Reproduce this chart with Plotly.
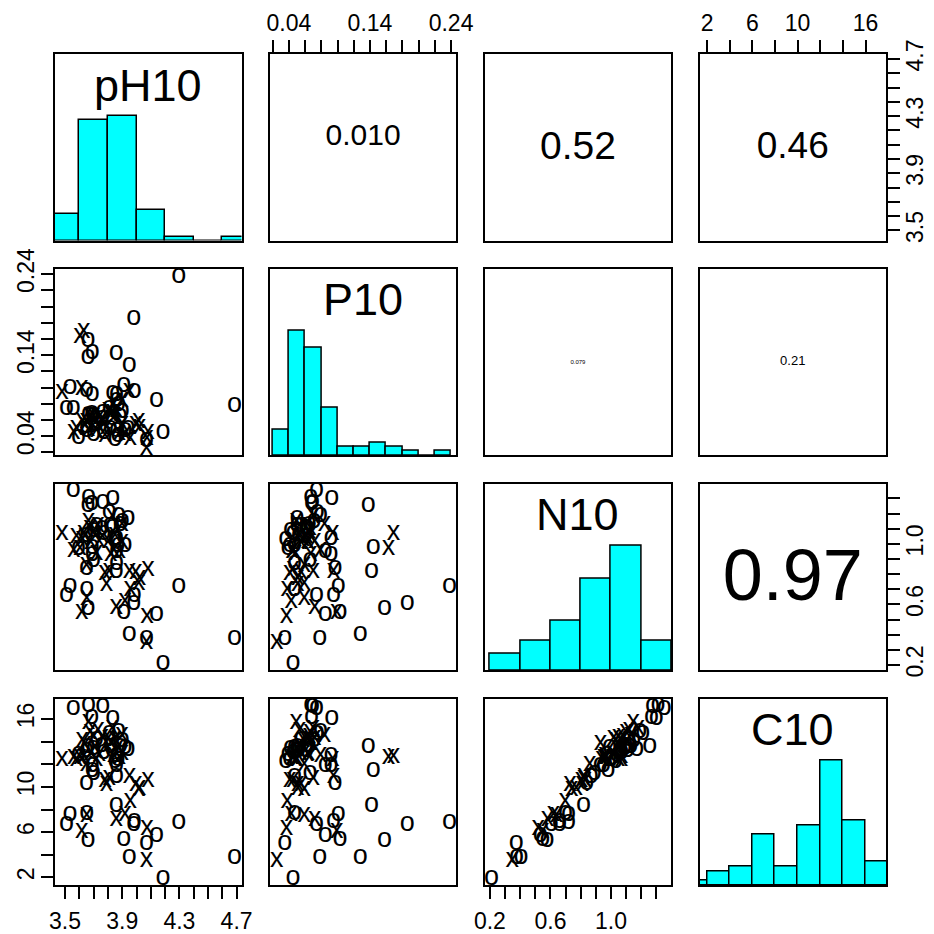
import numpy as np
import plotly.graph_objects as go

# ---------------- data ----------------
var_names = ["pH10", "P10", "N10", "C10"]

group = ["o", "x", "o", "o", "o", "o", "o", "o",
         "o", "o", "x", "o", "x", "x", "o", "o", "o", "x", "x",
         "o", "x", "x", "x",
         "x", "o", "o", "o", "o", "x", "x", "o", "x", "x", "x", "x", "o",
         "x", "x", "x", "o", "x", "o", "o", "x", "x", "o", "x", "o", "x", "o", "x", "o", "o", "o", "o", "x", "o", "x", "o", "x", "o", "x", "o",
         "x", "x", "x", "o", "x", "x", "x", "o", "x", "x", "o", "x", "o", "x",
         "o", "o", "o", "o", "o"]

ph10 = [4.185, 4.07, 3.95, 4.686, 4.07, 3.66, 3.91, 4.14,
        3.535, 3.652, 3.652, 3.51, 3.858, 3.92, 3.984, 3.98, 4.295, 3.617, 4.073,
        3.858, 3.956, 4.015, 4.02,
        3.65, 3.69, 3.69, 3.70, 3.65, 3.78, 3.79, 3.86, 3.95, 3.995, 4.08, 3.81, 3.86,
        3.478, 3.58, 3.56, 3.595, 3.605, 3.66, 3.757, 3.72, 3.63, 3.65, 3.68, 3.70, 3.74, 3.77, 3.64, 3.816, 3.92, 3.886, 3.87, 3.84, 3.86, 3.90, 3.83, 3.88, 3.94, 3.82, 3.85,
        3.664, 3.675, 3.83, 3.874, 3.898, 3.804, 3.70, 3.72, 3.76, 3.62, 3.81, 3.85, 3.90, 3.73,
        3.558, 3.664, 3.764, 3.687, 3.834]

p10 = [0.045, 0.025, 0.128, 0.078, 0.035, 0.158, 0.103, 0.085,
       0.101, 0.047, 0.059, 0.074, 0.072, 0.043, 0.095, 0.186, 0.238, 0.099, 0.037,
       0.142, 0.038, 0.059, 0.051,
       0.059, 0.092, 0.144, 0.066, 0.097, 0.041, 0.051, 0.047, 0.095, 0.055, 0.045, 0.070, 0.085,
       0.094, 0.050, 0.045, 0.039, 0.163, 0.138, 0.062, 0.048, 0.169, 0.052, 0.064, 0.042, 0.063, 0.045, 0.053, 0.050, 0.047, 0.065, 0.041, 0.079, 0.092, 0.055, 0.062, 0.044, 0.050, 0.067, 0.036,
       0.049, 0.066, 0.070, 0.079, 0.084, 0.072, 0.065, 0.055, 0.062, 0.058, 0.075, 0.066, 0.071, 0.053,
       0.074, 0.067, 0.069, 0.068, 0.093]

n10 = [0.211, 0.347, 0.405, 0.376, 0.375, 0.577, 0.55, 0.533,
       0.72, 0.70, 0.64, 0.66, 0.58, 0.62, 0.66, 0.605, 0.72, 0.55, 0.52,
       0.818, 0.698, 0.74, 0.77,
       0.86, 0.93, 0.98, 0.89, 0.84, 0.805, 0.73, 0.87, 0.82, 0.81, 0.83, 0.82, 0.95,
       1.07, 1.05, 0.96, 0.97, 0.97, 1.257, 1.10, 0.94, 1.07, 1.06, 1.01, 1.09, 1.02, 1.07, 1.05, 1.12, 0.99, 1.13, 0.99, 0.96, 1.04, 1.01, 1.11, 0.95, 1.17, 0.93, 1.03,
       1.147, 1.10, 1.18, 1.19, 1.13, 1.016, 1.08, 1.12, 1.05, 1.03, 1.21, 1.06, 1.15, 1.12,
       1.352, 1.31, 1.275, 1.268, 1.30]

c10 = [1.94, 3.50, 3.77, 3.77, 5.00, 5.30, 5.40, 5.70,
       7.54, 7.65, 7.48, 6.70, 7.10, 7.54, 6.95, 6.70, 6.90, 6.07, 6.36,
       8.42, 8.70, 9.75, 9.90,
       11.96, 11.90, 11.50, 11.20, 10.30, 10.60, 10.20, 10.90, 10.90, 10.20, 10.60, 10.80, 11.90,
       12.40, 12.40, 12.60, 12.90, 12.60, 13.60, 13.70, 12.40, 12.70, 13.20, 13.00, 13.40, 12.90, 13.10, 13.80, 13.60, 13.50, 13.60, 12.40, 12.80, 12.80, 13.00, 13.20, 12.60, 13.30, 13.90, 12.30,
       15.70, 14.80, 15.20, 14.90, 14.60, 14.30, 14.50, 14.20, 14.40, 14.10, 14.70, 14.20, 14.10, 15.00,
       16.97, 17.20, 17.10, 16.15, 16.10]

# histogram breaks (pretty breaks as in the reference)
ph_breaks = [3.4, 3.6, 3.8, 4.0, 4.2, 4.4, 4.6, 4.8]
p_breaks = [0.02, 0.04, 0.06, 0.08, 0.10, 0.12, 0.14, 0.16, 0.18, 0.20, 0.22, 0.24]
n_breaks = [0.2, 0.4, 0.6, 0.8, 1.0, 1.2, 1.4]
c_breaks = [0, 2, 4, 6, 8, 10, 12, 14, 16, 18]

# axis ticks and the labels that are printed
ph_ticks = [3.5, 3.6, 3.7, 3.8, 3.9, 4.0, 4.1, 4.2, 4.3, 4.4, 4.5, 4.6, 4.7]
ph_tick_labels = ["3.5", "", "", "", "3.9", "", "", "", "4.3", "", "", "", "4.7"]
p_ticks = [0.02, 0.04, 0.06, 0.08, 0.10, 0.12, 0.14, 0.16, 0.18, 0.20, 0.22, 0.24]
p_tick_labels = ["", "0.04", "", "", "", "", "0.14", "", "", "", "", "0.24"]
n_ticks = [0.2, 0.3, 0.4, 0.5, 0.6, 0.7, 0.8, 0.9, 1.0, 1.1, 1.2, 1.3]
n_tick_labels = ["0.2", "", "", "", "0.6", "", "", "", "1.0", "", "", ""]
c_ticks = [2, 4, 6, 8, 10, 12, 14, 16]
c_tick_labels = ["2", "", "6", "", "10", "", "", "16"]

# correlation texts shown in the upper panels: (row, col) -> text
cor_text = {(0, 1): "0.010", (0, 2): "0.52", (0, 3): "0.46",
            (1, 2): "0.079", (1, 3): "0.21", (2, 3): "0.97"}

# ---------------- styling ----------------
cor_font_size = {(0, 1): 30, (0, 2): 39, (0, 3): 37, (1, 2): 6, (1, 3): 13, (2, 3): 72}
cor_yfrac = {(0, 1): 0.55, (0, 2): 0.49, (0, 3): 0.49, (1, 2): 0.5, (1, 3): 0.5, (2, 3): 0.475}

values = {"pH10": ph10, "P10": p10, "N10": n10, "C10": c10}
breaks = {"pH10": ph_breaks, "P10": p_breaks, "N10": n_breaks, "C10": c_breaks}
ticks = {"pH10": (ph_ticks, ph_tick_labels), "P10": (p_ticks, p_tick_labels),
         "N10": (n_ticks, n_tick_labels), "C10": (c_ticks, c_tick_labels)}

# the page body adds an 8 px margin, so the figure is 926 px and margins are shifted
FIG = 926
ML, MR, MT, MB = 47, 48, 46, 49
PW = FIG - ML - MR
PH = FIG - MT - MB
S = 186.5
GX = (PW - 4 * S) / 3
GY = (PH - 4 * S) / 3

LINE_W = 1.8
TICK_FONT = dict(family="Liberation Sans Narrow, Liberation Sans, Arial, sans-serif", size=23, color="black")
TEXT_FONT = "Liberation Sans, Arial, sans-serif"


def data_range(v):
    lo, hi = min(v), max(v)
    d = hi - lo
    return [lo - 0.04 * d, hi + 0.04 * d]


ranges = {k: data_range(v) for k, v in values.items()}

fig = go.Figure()
layout = {}
annotations = []

for i in range(4):
    for j in range(4):
        k = i * 4 + j + 1
        xname = "x" if k == 1 else f"x{k}"
        yname = "y" if k == 1 else f"y{k}"
        xkey = "xaxis" if k == 1 else f"xaxis{k}"
        ykey = "yaxis" if k == 1 else f"yaxis{k}"
        vx = var_names[j]
        vy = var_names[i]

        x0 = j * (S + GX) / PW
        x1 = (j * (S + GX) + S) / PW
        ytop = 1 - i * (S + GY) / PH
        ybot = 1 - (i * (S + GY) + S) / PH

        yr = [0, 1.5] if i == j else ranges[vy]
        xa = dict(domain=[x0, x1], anchor=yname, range=ranges[vx], automargin=False,
                  showline=True, mirror=True, linecolor="black", linewidth=LINE_W,
                  showgrid=False, zeroline=False, showticklabels=False, ticks="",
                  fixedrange=True)
        ya = dict(domain=[ybot, ytop], anchor=xname, range=yr, automargin=False,
                  showline=True, mirror=True, linecolor="black", linewidth=LINE_W,
                  showgrid=False, zeroline=False, showticklabels=False, ticks="",
                  fixedrange=True)

        tick_common = dict(ticks="outside", ticklen=12, tickwidth=1.6, tickcolor="black",
                           showticklabels=True, tickfont=TICK_FONT, tickmode="array")
        if i == 3 and j in (0, 2):
            tv, tt = ticks[vx]
            xa.update(tick_common, side="bottom", tickvals=tv, ticktext=tt, tickangle=0,
                      ticklabelstandoff=2)
        if i == 0 and j in (1, 3):
            tv, tt = ticks[vx]
            xa.update(tick_common, side="top", tickvals=tv, ticktext=tt, tickangle=0,
                      ticklabelstandoff=0)
        if j == 0 and i in (1, 3):
            tv, tt = ticks[vy]
            ya.update(tick_common, side="left", tickvals=tv, ticktext=tt, tickangle=-90,
                      ticklabelstandoff=-2)
        if j == 3 and i in (0, 2):
            tv, tt = ticks[vy]
            ya.update(tick_common, side="right", tickvals=tv, ticktext=tt, tickangle=-90,
                      ticklabelstandoff=-5)

        layout[xkey] = xa
        layout[ykey] = ya

        if i == j:
            br = np.array(breaks[vx], dtype=float)
            counts, _ = np.histogram(np.array(values[vx]), bins=br)
            heights = counts / counts.max()
            fig.add_trace(go.Bar(
                x=(br[:-1] + br[1:]) / 2, y=heights, width=np.diff(br),
                marker=dict(color="#00FFFF", line=dict(color="black", width=1.5)),
                xaxis=xname, yaxis=yname, showlegend=False, hoverinfo="skip"))
            annotations.append(dict(
                text=vx, xref=f"{xname} domain", yref=f"{yname} domain",
                x=0.5, y=0.8333, xanchor="center", yanchor="middle", showarrow=False,
                font=dict(family=TEXT_FONT, size=45, color="black")))
        elif i > j:
            fig.add_trace(go.Scatter(
                x=values[vx], y=values[vy], mode="text", text=group,
                textposition="middle center",
                textfont=dict(family=TEXT_FONT, size=27, color="black"),
                xaxis=xname, yaxis=yname, showlegend=False, hoverinfo="skip"))
        else:
            xr = ranges[vx]
            cx = xr[0] + 0.5 * (xr[1] - xr[0])
            cy = yr[0] + cor_yfrac[(i, j)] * (yr[1] - yr[0])
            fig.add_trace(go.Scatter(
                x=[cx], y=[cy], mode="text", text=[cor_text[(i, j)]],
                textposition="middle center",
                textfont=dict(family=TEXT_FONT, size=cor_font_size[(i, j)], color="black"),
                xaxis=xname, yaxis=yname, showlegend=False, hoverinfo="skip"))

fig.update_layout(**layout)
fig.update_layout(
    width=FIG, height=FIG,
    margin=dict(l=ML, r=MR, t=MT, b=MB, pad=0, autoexpand=False),
    paper_bgcolor="white", plot_bgcolor="white",
    showlegend=False, bargap=0,
    annotations=annotations,
)

fig.write_html("out.html")
